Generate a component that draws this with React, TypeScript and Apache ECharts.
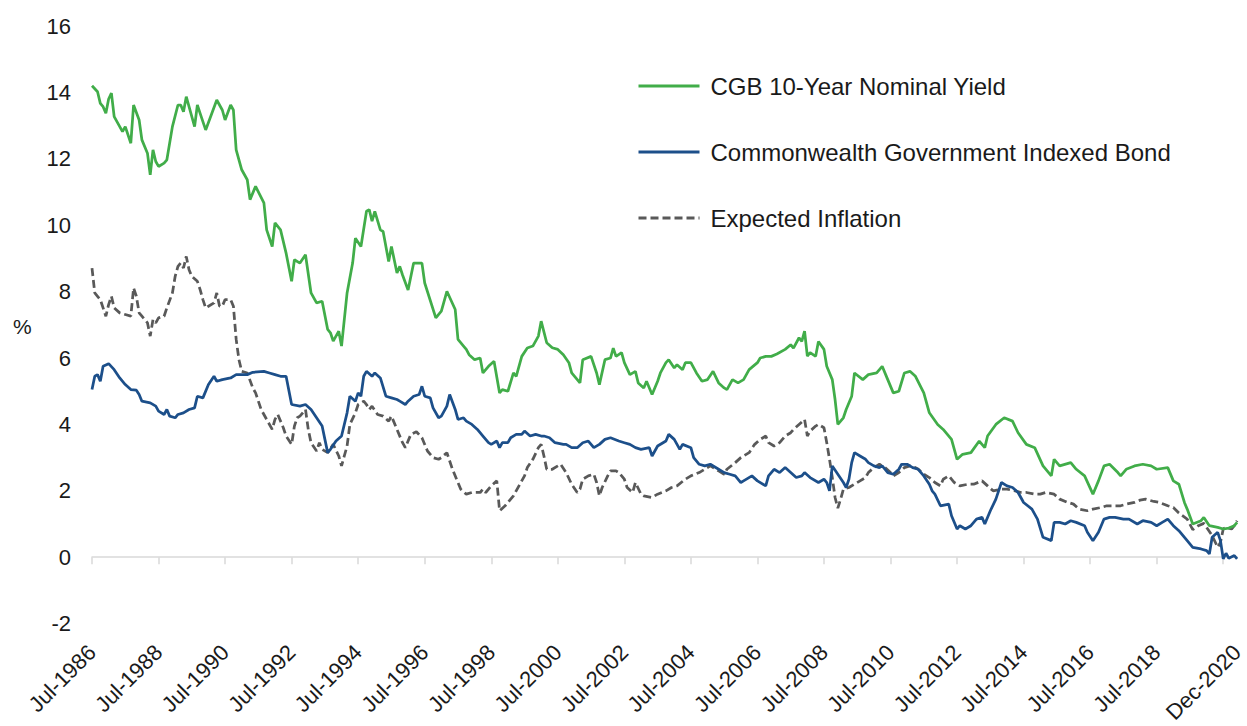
import React, { useEffect, useRef } from "react";
import * as echarts from "echarts";

// ---- categories: monthly, Jul-1986 .. Dec-2020 ----
const MONTH_NAMES = ["Jan", "Feb", "Mar", "Apr", "May", "Jun", "Jul", "Aug", "Sep", "Oct", "Nov", "Dec"];
const START_YEAR = 1986;
const START_MONTH = 6; // Jul
const MONTH_COUNT = 414; // through Dec-2020
const categories: string[] = [];
for (let i = 0; i < MONTH_COUNT; i++) {
  const mi = START_MONTH + i;
  categories.push(`${MONTH_NAMES[mi % 12]}-${START_YEAR + Math.floor(mi / 12)}`);
}

const Y_MIN = -2;
const Y_MAX = 16;
const Y_STEP = 2;

const SERIES_NAMES = [
  "CGB 10-Year Nominal Yield",
  "Commonwealth Government Indexed Bond",
  "Expected Inflation",
];

// [month index since Jul-1986, %]
const nominalYield: [number, number][] = [
  [0, 14.2], [2, 14.02], [3, 13.67], [4, 13.57], [5, 13.37], [6, 13.8], [7, 13.98], [8, 13.27], [10, 12.97],
  [11, 12.82], [12, 12.97], [14, 12.47], [15, 13.62], [17, 13.17], [18, 12.57], [20, 12.17], [21, 11.52],
  [22, 12.27], [23, 11.92], [24, 11.77], [26, 11.87], [27, 11.97], [29, 12.97], [31, 13.62], [32, 13.62],
  [33, 13.42], [34, 13.87], [35, 13.57], [37, 12.97], [38, 13.62], [39, 13.37], [41, 12.87], [43, 13.32],
  [45, 13.77], [47, 13.47], [48, 13.17], [50, 13.62], [51, 13.47], [52, 12.27], [54, 11.67], [56, 11.37],
  [57, 10.77], [59, 11.17], [62, 10.67], [63, 9.86], [65, 9.36], [66, 10.07], [68, 9.86], [70, 9.16],
  [72, 8.31], [73, 8.96], [75, 8.86], [77, 9.11], [79, 7.96], [81, 7.66], [83, 7.71], [85, 6.86], [86, 6.76],
  [87, 6.51], [89, 6.81], [90, 6.36], [92, 7.96], [94, 8.86], [95, 9.61], [97, 9.36], [99, 10.42], [100, 10.47],
  [101, 10.12], [102, 10.42], [104, 9.86], [105, 9.81], [107, 8.91], [108, 9.36], [110, 8.56], [111, 8.76],
  [112, 8.5], [114, 8.05], [116, 8.86], [119, 8.86], [120, 8.26], [124, 7.21], [126, 7.41], [128, 8.01],
  [131, 7.46], [132, 6.56], [134, 6.36], [135, 6.26], [136, 6.1], [138, 5.95], [140, 6.0], [141, 5.55],
  [143, 5.75], [145, 5.9], [147, 4.95], [148, 5.05], [150, 5.0], [152, 5.55], [153, 5.45], [155, 6.05],
  [157, 6.3], [159, 6.36], [161, 6.66], [162, 7.11], [164, 6.46], [166, 6.31], [168, 6.26], [170, 6.1],
  [172, 5.86], [173, 5.55], [176, 5.25], [177, 5.95], [180, 6.05], [182, 5.55], [183, 5.2], [185, 5.95],
  [187, 6.0], [188, 6.3], [189, 6.05], [191, 6.16], [192, 5.86], [194, 5.5], [196, 5.6], [197, 5.25],
  [199, 5.1], [200, 5.3], [202, 4.9], [204, 5.3], [205, 5.55], [207, 5.86], [208, 5.95], [210, 5.7],
  [211, 5.8], [213, 5.65], [214, 5.86], [216, 5.86], [218, 5.55], [220, 5.3], [222, 5.35], [224, 5.6],
  [226, 5.25], [228, 5.1], [229, 5.05], [231, 5.35], [233, 5.25], [235, 5.35], [237, 5.65], [240, 5.86],
  [241, 6.0], [243, 6.05], [245, 6.05], [247, 6.12], [250, 6.26], [252, 6.4], [253, 6.3], [255, 6.61],
  [256, 6.5], [257, 6.81], [258, 6.06], [259, 6.16], [261, 6.05], [262, 6.5], [264, 6.26], [265, 5.75],
  [267, 5.35], [268, 4.75], [269, 4.0], [271, 4.2], [272, 4.45], [274, 4.85], [275, 5.55], [278, 5.35],
  [280, 5.5], [283, 5.55], [285, 5.75], [287, 5.35], [289, 4.95], [291, 5.0], [293, 5.55], [295, 5.6],
  [297, 5.45], [300, 4.95], [302, 4.35], [305, 4.0], [307, 3.85], [310, 3.55], [312, 2.95], [314, 3.1],
  [317, 3.15], [320, 3.5], [322, 3.3], [323, 3.65], [326, 4.0], [329, 4.2], [332, 4.1], [334, 3.75],
  [337, 3.4], [340, 3.3], [343, 2.75], [346, 2.45], [347, 2.95], [349, 2.75], [353, 2.85], [355, 2.65],
  [358, 2.45], [361, 1.9], [363, 2.3], [365, 2.75], [367, 2.8], [370, 2.55], [371, 2.45], [373, 2.65],
  [376, 2.75], [379, 2.8], [382, 2.75], [384, 2.65], [388, 2.7], [390, 2.3], [392, 2.2], [394, 1.65],
  [395, 1.45], [397, 1.0], [400, 1.1], [401, 1.2], [403, 0.95], [406, 0.9], [408, 0.85], [410, 0.88],
  [412, 0.95], [413, 1.05],
];

const indexedBond: [number, number][] = [
  [0, 5.05], [1, 5.45], [2, 5.5], [3, 5.3], [4, 5.75], [6, 5.83], [8, 5.65], [10, 5.4], [12, 5.2], [14, 5.05],
  [16, 5.03], [17, 4.9], [18, 4.7], [21, 4.65], [23, 4.55], [24, 4.4], [26, 4.3], [27, 4.45], [28, 4.25],
  [30, 4.2], [31, 4.3], [33, 4.35], [35, 4.45], [37, 4.5], [38, 4.85], [40, 4.8], [42, 5.2], [44, 5.45],
  [45, 5.3], [47, 5.35], [50, 5.4], [52, 5.5], [56, 5.5], [58, 5.57], [62, 5.6], [64, 5.55], [66, 5.5],
  [68, 5.45], [70, 5.45], [72, 4.6], [75, 4.55], [77, 4.6], [79, 4.45], [81, 4.2], [83, 3.95], [84, 3.55],
  [85, 3.15], [86, 3.25], [88, 3.5], [90, 3.65], [92, 4.35], [93, 4.85], [95, 4.7], [96, 4.95], [97, 4.85],
  [98, 5.45], [99, 5.6], [101, 5.45], [102, 5.55], [104, 5.4], [106, 4.85], [108, 4.8], [110, 4.75],
  [111, 4.7], [113, 4.6], [114, 4.7], [116, 4.85], [118, 4.9], [119, 5.15], [120, 4.85], [122, 4.8],
  [123, 4.5], [125, 4.2], [126, 4.25], [128, 4.55], [129, 4.9], [131, 4.45], [132, 4.15], [134, 4.2],
  [135, 4.1], [137, 4.0], [139, 3.85], [141, 3.65], [143, 3.45], [144, 3.4], [146, 3.5], [147, 3.3],
  [148, 3.45], [150, 3.45], [151, 3.6], [153, 3.7], [155, 3.7], [156, 3.8], [158, 3.65], [160, 3.7],
  [162, 3.65], [163, 3.65], [165, 3.6], [167, 3.45], [170, 3.4], [171, 3.4], [173, 3.3], [175, 3.3],
  [177, 3.45], [179, 3.5], [181, 3.3], [183, 3.4], [185, 3.55], [187, 3.6], [190, 3.5], [192, 3.45],
  [194, 3.4], [196, 3.3], [198, 3.25], [201, 3.3], [202, 3.05], [204, 3.35], [207, 3.5], [208, 3.7],
  [210, 3.55], [212, 3.25], [213, 3.4], [216, 3.3], [217, 3.0], [219, 2.8], [221, 2.75], [223, 2.8],
  [226, 2.65], [228, 2.55], [230, 2.5], [232, 2.45], [234, 2.25], [235, 2.3], [238, 2.45], [240, 2.3],
  [243, 2.15], [244, 2.45], [246, 2.65], [248, 2.55], [250, 2.7], [252, 2.55], [254, 2.4], [256, 2.45],
  [257, 2.55], [259, 2.4], [262, 2.25], [264, 2.35], [265, 2.25], [266, 2.0], [267, 2.75], [269, 2.5],
  [271, 2.25], [272, 2.1], [273, 2.35], [274, 2.85], [275, 3.15], [277, 3.05], [279, 2.95], [280, 2.85],
  [282, 2.75], [284, 2.7], [285, 2.75], [287, 2.55], [289, 2.5], [291, 2.65], [292, 2.8], [294, 2.8],
  [296, 2.7], [298, 2.65], [300, 2.45], [302, 2.2], [303, 2.0], [304, 1.9], [306, 1.55], [309, 1.6],
  [310, 1.25], [312, 0.85], [313, 0.95], [315, 0.85], [317, 0.95], [319, 1.15], [321, 1.2], [322, 1.0],
  [324, 1.4], [326, 1.75], [328, 2.25], [330, 2.15], [332, 2.1], [334, 1.95], [336, 1.65], [339, 1.45],
  [341, 1.15], [343, 0.6], [346, 0.5], [347, 1.05], [349, 1.05], [351, 1.0], [353, 1.1], [355, 1.05],
  [358, 0.95], [359, 0.75], [361, 0.5], [363, 0.75], [365, 1.15], [367, 1.2], [369, 1.2], [372, 1.15],
  [374, 1.15], [377, 1.0], [379, 1.1], [382, 1.05], [384, 0.95], [386, 1.05], [388, 1.15], [390, 0.95],
  [392, 0.8], [395, 0.5], [397, 0.3], [400, 0.25], [402, 0.2], [403, 0.1], [404, 0.6], [406, 0.75],
  [407, 0.5], [408, -0.05], [409, 0.12], [410, -0.03], [412, 0.05], [413, -0.05],
];

const expectedInflation: [number, number][] = [
  [0, 8.71], [1, 7.96], [2, 7.86], [3, 7.76], [5, 7.26], [6, 7.61], [7, 7.86], [8, 7.51], [10, 7.36],
  [12, 7.31], [14, 7.26], [15, 8.11], [16, 7.86], [17, 7.36], [18, 7.26], [20, 7.06], [21, 6.66], [22, 7.16],
  [23, 7.06], [24, 7.21], [26, 7.26], [27, 7.51], [29, 7.96], [30, 8.46], [31, 8.76], [32, 8.86], [33, 8.71],
  [34, 9.06], [35, 8.66], [36, 8.46], [38, 8.31], [39, 8.06], [40, 7.76], [41, 7.51], [42, 7.56], [44, 7.66],
  [45, 7.96], [46, 7.56], [47, 7.56], [48, 7.76], [50, 7.76], [51, 7.56], [52, 6.56], [53, 5.95], [54, 5.6],
  [56, 5.55], [58, 5.1], [59, 4.95], [61, 4.45], [63, 4.15], [65, 3.85], [66, 4.15], [67, 4.3], [69, 3.9],
  [70, 3.65], [72, 3.4], [73, 3.95], [74, 4.2], [75, 4.25], [77, 4.45], [78, 3.85], [79, 3.45], [81, 3.2],
  [82, 3.45], [83, 3.25], [85, 3.15], [87, 3.4], [89, 3.05], [90, 2.75], [92, 3.35], [93, 4.0], [95, 4.35],
  [96, 4.6], [98, 4.7], [99, 4.6], [100, 4.45], [101, 4.55], [103, 4.3], [105, 4.25], [107, 4.1], [108, 4.25],
  [110, 3.85], [112, 3.45], [113, 3.3], [115, 3.7], [117, 3.78], [119, 3.6], [121, 3.2], [123, 3.0],
  [125, 2.95], [126, 3.0], [128, 3.15], [130, 2.65], [132, 2.25], [133, 2.05], [135, 1.9], [137, 1.95],
  [140, 1.95], [141, 2.05], [142, 1.95], [144, 2.15], [146, 2.3], [147, 1.4], [149, 1.55], [151, 1.75],
  [152, 1.85], [154, 2.15], [156, 2.45], [157, 2.7], [159, 2.95], [161, 3.3], [162, 3.4], [163, 3.05],
  [164, 2.65], [166, 2.65], [168, 2.75], [169, 2.8], [171, 2.55], [173, 2.2], [175, 1.95], [176, 2.05],
  [177, 2.35], [179, 2.45], [181, 2.5], [182, 2.25], [183, 1.85], [184, 2.1], [186, 2.45], [187, 2.6],
  [189, 2.6], [190, 2.55], [192, 2.35], [193, 2.1], [195, 1.95], [196, 2.25], [198, 1.9], [199, 1.85],
  [202, 1.8], [204, 1.9], [207, 2.0], [209, 2.1], [211, 2.15], [214, 2.35], [216, 2.45], [219, 2.55],
  [221, 2.65], [223, 2.75], [226, 2.6], [228, 2.5], [229, 2.65], [232, 2.85], [234, 3.0], [237, 3.15],
  [239, 3.4], [241, 3.55], [243, 3.65], [244, 3.45], [246, 3.35], [248, 3.45], [250, 3.65], [252, 3.75],
  [253, 3.85], [255, 4.0], [257, 4.15], [258, 3.65], [259, 3.8], [261, 3.95], [262, 4.0], [264, 3.9],
  [265, 3.45], [266, 2.95], [267, 2.4], [268, 1.8], [269, 1.48], [270, 1.75], [271, 2.05], [273, 2.1],
  [275, 2.2], [277, 2.3], [279, 2.4], [280, 2.55], [282, 2.7], [284, 2.8], [286, 2.7], [288, 2.55],
  [289, 2.45], [291, 2.55], [293, 2.7], [295, 2.75], [297, 2.7], [298, 2.65], [300, 2.5], [302, 2.4],
  [304, 2.25], [306, 2.15], [307, 2.35], [309, 2.45], [311, 2.25], [313, 2.15], [316, 2.2], [318, 2.2],
  [321, 2.3], [323, 2.15], [325, 2.0], [328, 2.05], [330, 2.05], [333, 2.0], [335, 1.95], [337, 1.95],
  [340, 1.9], [342, 1.9], [344, 1.95], [347, 1.9], [349, 1.75], [352, 1.65], [354, 1.6], [356, 1.45],
  [359, 1.4], [361, 1.45], [364, 1.5], [366, 1.55], [368, 1.55], [371, 1.55], [373, 1.6], [376, 1.65],
  [378, 1.72], [380, 1.75], [383, 1.68], [385, 1.65], [388, 1.55], [390, 1.5], [392, 1.33], [395, 1.15],
  [397, 0.83], [399, 0.95], [401, 1.02], [402, 0.9], [404, 0.65], [406, 0.3], [407, 0.45], [408, 0.85],
  [409, 0.9], [411, 0.85], [412, 0.95], [413, 1.1],
];

const FONT = "'Liberation Sans', Arial, sans-serif";
const TEXT = "#1a1a1a";
const GREEN = "#41ad49";
const BLUE = "#1c4f8a";
const GREY = "#595959";

export default function App() {
  const ref = useRef<HTMLDivElement>(null);
  useEffect(() => {
    if (!ref.current) return;
    const chart = echarts.init(ref.current, undefined, { renderer: "svg" });
    const lastIdx = categories.length - 1;
    chart.setOption({
      animation: false,
      backgroundColor: "#ffffff",
      textStyle: { fontFamily: FONT },
      grid: { left: 92, right: 5, top: 26, bottom: 102, containLabel: false },
      legend: {
        orient: "vertical",
        left: 637,
        top: 74,
        padding: 0,
        itemWidth: 61,
        itemHeight: 20,
        itemGap: 42,
        itemStyle: { opacity: 0, borderWidth: 0 },
        lineStyle: { width: 3 },
        textStyle: { fontSize: 24, color: TEXT, fontFamily: FONT, padding: [0, 0, 0, 6] },
        data: SERIES_NAMES,
      },
      xAxis: [
        {
          type: "category",
          data: categories,
          boundaryGap: false,
          axisLine: { show: true, onZero: true, lineStyle: { color: "#d9d9d9", width: 1.5 } },
          axisTick: {
            show: true,
            interval: (i: number) => i % 24 === 0,
            length: 7,
            lineStyle: { color: "#d9d9d9", width: 1.5 },
          },
          axisLabel: { show: false },
          splitLine: { show: false },
        },
        {
          type: "category",
          data: categories,
          boundaryGap: false,
          position: "bottom",
          axisLine: { show: false, onZero: false },
          axisTick: { show: false },
          splitLine: { show: false },
          axisLabel: {
            show: true,
            rotate: 45,
            margin: 25,
            fontSize: 22,
            color: TEXT,
            fontFamily: FONT,
            interval: (i: number) => (i % 24 === 0 && i < 408) || i === lastIdx,
          },
        },
      ],
      yAxis: {
        type: "value",
        min: Y_MIN,
        max: Y_MAX,
        interval: Y_STEP,
        axisLine: { show: false },
        axisTick: { show: false },
        splitLine: { show: false },
        axisLabel: { fontSize: 22, color: TEXT, fontFamily: FONT, margin: 21 },
      },
      graphic: [
        {
          type: "text",
          left: 13,
          top: 316,
          style: { text: "%", fontSize: 21, fill: TEXT, fontFamily: FONT },
        },
      ],
      series: [
        {
          name: SERIES_NAMES[0],
          type: "line",
          xAxisIndex: 0,
          data: nominalYield,
          symbol: "none",
          lineStyle: { color: GREEN, width: 2.75 },
          itemStyle: { color: GREEN },
          z: 3,
        },
        {
          name: SERIES_NAMES[1],
          type: "line",
          xAxisIndex: 0,
          data: indexedBond,
          symbol: "none",
          lineStyle: { color: BLUE, width: 2.75 },
          itemStyle: { color: BLUE },
          z: 2,
        },
        {
          name: SERIES_NAMES[2],
          type: "line",
          xAxisIndex: 0,
          data: expectedInflation,
          symbol: "none",
          lineStyle: { color: GREY, width: 2.75, type: [8, 4] },
          itemStyle: { color: GREY },
          z: 1,
        },
      ],
    });
    return () => chart.dispose();
  }, []);
  return (
    <div
      ref={ref}
      style={{ position: "absolute", left: 0, top: 0, width: 1247, height: 726, background: "#fff" }}
    />
  );
}
